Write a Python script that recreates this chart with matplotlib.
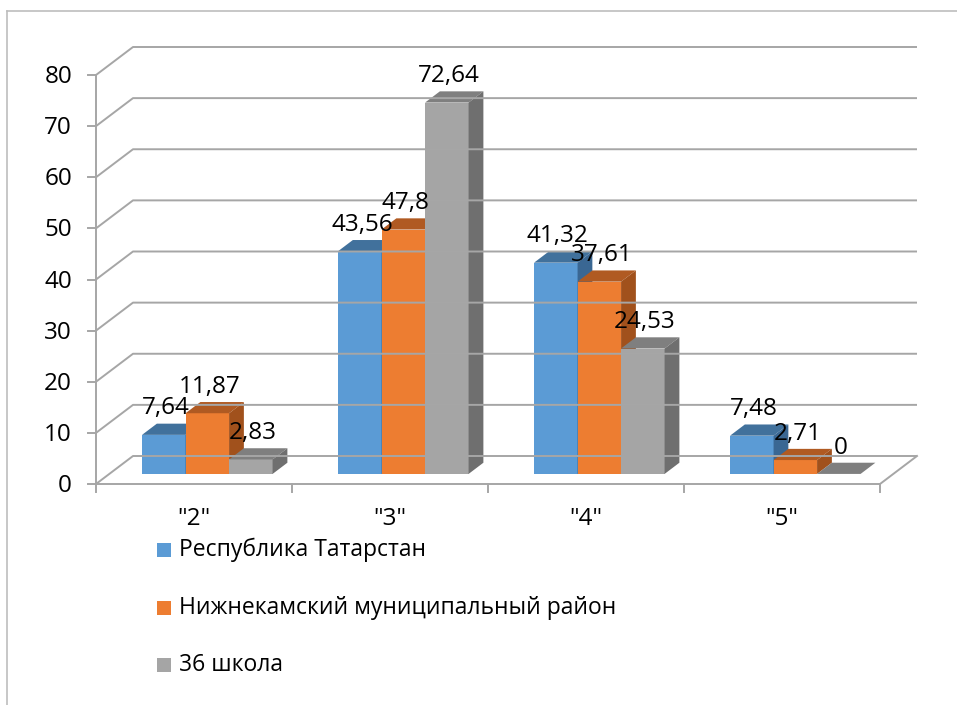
import matplotlib
matplotlib.use("Agg")
import matplotlib.pyplot as plt
from matplotlib.patches import Polygon, Rectangle
from matplotlib.lines import Line2D

# данные диаграммы
categories = ['"2"', '"3"', '"4"', '"5"']
series_names = ["Республика Татарстан", "Нижнекамский муниципальный район", "36 школа"]
tatarstan = [7.64, 43.56, 41.32, 7.48]
nizhnekamsk = [11.87, 47.8, 37.61, 2.71]
school36 = [2.83, 72.64, 24.53, 0]
y_ticks = [0, 10, 20, 30, 40, 50, 60, 70, 80]

series = [tatarstan, nizhnekamsk, school36]
front_colors = ["#5b9bd5", "#ed7d31", "#a5a5a5"]
top_colors = ["#41719c", "#b05a22", "#7f7f7f"]
side_colors = ["#3a6793", "#a1511c", "#6f6f6f"]

W, H = 957, 705
fig = plt.figure(figsize=(W / 100, H / 100), dpi=100)
plt.rcParams["font.family"] = ["Open Sans", "DejaVu Sans"]
FS = 17.5      # цифры
FS_LEG = 16.5  # легенда

# передняя плоскость осей в пикселях
px0, px4 = 96, 880
py0, py80 = 484, 75
cat_px = (px4 - px0) / 4
val_px = (py0 - py80) / 80.0

ax = fig.add_axes([0, 0, 1, 1])
ax.set_xlim(-px0 / cat_px, (W - px0) / cat_px)
ax.set_ylim(-(H - py0) / val_px, py0 / val_px)
ax.axis("off")

# глубина стенки (псевдо-3D)
DX = 37 / cat_px
DY = 28 / val_px
z0, z1 = 0.36, 0.76
grid_c = "#a6a6a6"
lw = 1.4


def proj(x, v, z):
    return x + z * DX, v + z * DY


# линии сетки: левая стенка + задняя стенка
for v in y_ticks:
    a = proj(0, v, 0)
    b = proj(0, v, 1)
    c = proj(4, v, 1)
    ax.plot([a[0], b[0], c[0]], [a[1], b[1], c[1]], color=grid_c, lw=lw, solid_capstyle="butt")
    ax.plot([-8 / cat_px, 0], [v, v], color=grid_c, lw=lw)
    ax.text(-24 / cat_px, v - 2 / val_px, str(v), ha="right", va="center", fontsize=FS)

# вертикальная ось и пол
ax.plot([0, 0], [0, 80], color=grid_c, lw=lw)
ax.plot([0, 4], [0, 0], color=grid_c, lw=lw)
a = proj(4, 0, 0)
b = proj(4, 0, 1)
ax.plot([a[0], b[0]], [a[1], b[1]], color=grid_c, lw=lw)
for i in range(5):
    ax.plot([i, i], [0, -8 / val_px], color=grid_c, lw=lw)
for i, cat in enumerate(categories):
    ax.text(i + 0.5, -35 / val_px, cat, ha="center", va="center", fontsize=FS)

# столбцы
bw = 0.222
start = 0.5 - 1.5 * bw
for i in range(len(categories)):
    for s, vals in enumerate(series):
        v = vals[i]
        xl = i + start + s * bw
        fx, fy = proj(xl, 0, z0)
        ax.bar(fx, v, width=bw, bottom=fy, align="edge", color=front_colors[s], linewidth=0)
        tl = proj(xl, v, z0)
        tr = proj(xl + bw, v, z0)
        br = proj(xl + bw, v, z1)
        bl = proj(xl, v, z1)
        ax.add_patch(Polygon([tl, tr, br, bl], closed=True, color=top_colors[s], lw=0))
        sb = proj(xl + bw, 0, z0)
        sbb = proj(xl + bw, 0, z1)
        ax.add_patch(Polygon([sb, tr, br, sbb], closed=True, color=side_colors[s], lw=0))
        lab = f"{v:g}".replace(".", ",")
        ax.annotate(lab, (fx + bw / 2, fy + v), xytext=(1.5, 19), textcoords="offset points",
                    ha="center", va="center", fontsize=FS)

# легенда
leg_y = [550, 608, 665]
for s, name in enumerate(series_names):
    y = leg_y[s]
    fig.add_artist(Rectangle((157 / W, 1 - (y + 7) / H), 14 / W, 14 / H,
                             transform=fig.transFigure, color=front_colors[s], lw=0))
    fig.text(179 / W, 1 - y / H, name, ha="left", va="center", fontsize=FS_LEG)

# рамка
fig.add_artist(Line2D([7 / W, 7 / W], [0, 1 - 11 / H], transform=fig.transFigure, color="#bdbdbd", lw=1.2))
fig.add_artist(Line2D([7 / W, 1], [1 - 11 / H, 1 - 11 / H], transform=fig.transFigure, color="#bdbdbd", lw=1.2))

fig.savefig("out.png", dpi=100)
